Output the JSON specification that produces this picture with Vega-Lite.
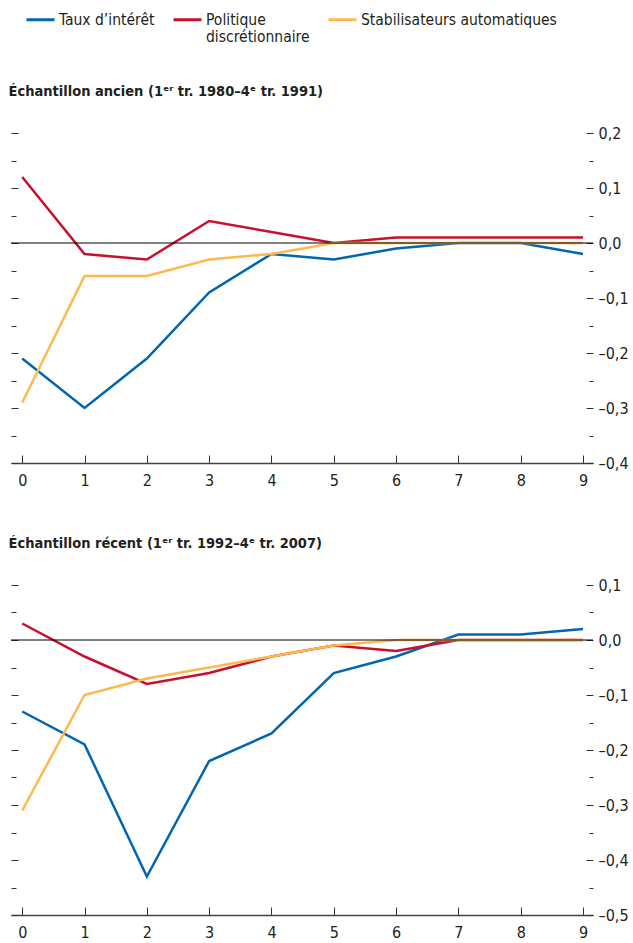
{
  "$schema": "https://vega.github.io/schema/vega-lite/v6.json",
  "background": "white",
  "padding": {"left": 8, "top": 4, "right": 4, "bottom": 4},
  "config": {
    "font": "'DejaVu Sans Condensed', sans-serif",
    "view": {"stroke": null},
    "axis": {"grid": false, "title": null, "labelFontSize": 16, "labelColor": "#231f20", "tickColor": "#333", "tickWidth": 1},
    "title": {"fontSize": 14.5, "fontWeight": "bold", "anchor": "start", "color": "#231f20", "offset": 26}
  },
  "datasets": {
    "d": [
      {"panel": "ancien", "h": 0, "s": "Taux d’intérêt", "v": -0.21},
      {"panel": "ancien", "h": 1, "s": "Taux d’intérêt", "v": -0.30},
      {"panel": "ancien", "h": 2, "s": "Taux d’intérêt", "v": -0.21},
      {"panel": "ancien", "h": 3, "s": "Taux d’intérêt", "v": -0.09},
      {"panel": "ancien", "h": 4, "s": "Taux d’intérêt", "v": -0.02},
      {"panel": "ancien", "h": 5, "s": "Taux d’intérêt", "v": -0.03},
      {"panel": "ancien", "h": 6, "s": "Taux d’intérêt", "v": -0.01},
      {"panel": "ancien", "h": 7, "s": "Taux d’intérêt", "v": 0.0},
      {"panel": "ancien", "h": 8, "s": "Taux d’intérêt", "v": 0.0},
      {"panel": "ancien", "h": 9, "s": "Taux d’intérêt", "v": -0.02},
      {"panel": "ancien", "h": 0, "s": "Politique discrétionnaire", "v": 0.12},
      {"panel": "ancien", "h": 1, "s": "Politique discrétionnaire", "v": -0.02},
      {"panel": "ancien", "h": 2, "s": "Politique discrétionnaire", "v": -0.03},
      {"panel": "ancien", "h": 3, "s": "Politique discrétionnaire", "v": 0.04},
      {"panel": "ancien", "h": 4, "s": "Politique discrétionnaire", "v": 0.02},
      {"panel": "ancien", "h": 5, "s": "Politique discrétionnaire", "v": 0.0},
      {"panel": "ancien", "h": 6, "s": "Politique discrétionnaire", "v": 0.01},
      {"panel": "ancien", "h": 7, "s": "Politique discrétionnaire", "v": 0.01},
      {"panel": "ancien", "h": 8, "s": "Politique discrétionnaire", "v": 0.01},
      {"panel": "ancien", "h": 9, "s": "Politique discrétionnaire", "v": 0.01},
      {"panel": "ancien", "h": 0, "s": "Stabilisateurs automatiques", "v": -0.29},
      {"panel": "ancien", "h": 1, "s": "Stabilisateurs automatiques", "v": -0.06},
      {"panel": "ancien", "h": 2, "s": "Stabilisateurs automatiques", "v": -0.06},
      {"panel": "ancien", "h": 3, "s": "Stabilisateurs automatiques", "v": -0.03},
      {"panel": "ancien", "h": 4, "s": "Stabilisateurs automatiques", "v": -0.02},
      {"panel": "ancien", "h": 5, "s": "Stabilisateurs automatiques", "v": 0.0},
      {"panel": "ancien", "h": 6, "s": "Stabilisateurs automatiques", "v": 0.0},
      {"panel": "ancien", "h": 7, "s": "Stabilisateurs automatiques", "v": 0.0},
      {"panel": "ancien", "h": 8, "s": "Stabilisateurs automatiques", "v": 0.0},
      {"panel": "ancien", "h": 9, "s": "Stabilisateurs automatiques", "v": 0.0},
      {"panel": "recent", "h": 0, "s": "Taux d’intérêt", "v": -0.13},
      {"panel": "recent", "h": 1, "s": "Taux d’intérêt", "v": -0.19},
      {"panel": "recent", "h": 2, "s": "Taux d’intérêt", "v": -0.43},
      {"panel": "recent", "h": 3, "s": "Taux d’intérêt", "v": -0.22},
      {"panel": "recent", "h": 4, "s": "Taux d’intérêt", "v": -0.17},
      {"panel": "recent", "h": 5, "s": "Taux d’intérêt", "v": -0.06},
      {"panel": "recent", "h": 6, "s": "Taux d’intérêt", "v": -0.03},
      {"panel": "recent", "h": 7, "s": "Taux d’intérêt", "v": 0.01},
      {"panel": "recent", "h": 8, "s": "Taux d’intérêt", "v": 0.01},
      {"panel": "recent", "h": 9, "s": "Taux d’intérêt", "v": 0.02},
      {"panel": "recent", "h": 0, "s": "Politique discrétionnaire", "v": 0.03},
      {"panel": "recent", "h": 1, "s": "Politique discrétionnaire", "v": -0.03},
      {"panel": "recent", "h": 2, "s": "Politique discrétionnaire", "v": -0.08},
      {"panel": "recent", "h": 3, "s": "Politique discrétionnaire", "v": -0.06},
      {"panel": "recent", "h": 4, "s": "Politique discrétionnaire", "v": -0.03},
      {"panel": "recent", "h": 5, "s": "Politique discrétionnaire", "v": -0.01},
      {"panel": "recent", "h": 6, "s": "Politique discrétionnaire", "v": -0.02},
      {"panel": "recent", "h": 7, "s": "Politique discrétionnaire", "v": 0.0},
      {"panel": "recent", "h": 8, "s": "Politique discrétionnaire", "v": 0.0},
      {"panel": "recent", "h": 9, "s": "Politique discrétionnaire", "v": 0.0},
      {"panel": "recent", "h": 0, "s": "Stabilisateurs automatiques", "v": -0.31},
      {"panel": "recent", "h": 1, "s": "Stabilisateurs automatiques", "v": -0.10},
      {"panel": "recent", "h": 2, "s": "Stabilisateurs automatiques", "v": -0.07},
      {"panel": "recent", "h": 3, "s": "Stabilisateurs automatiques", "v": -0.05},
      {"panel": "recent", "h": 4, "s": "Stabilisateurs automatiques", "v": -0.03},
      {"panel": "recent", "h": 5, "s": "Stabilisateurs automatiques", "v": -0.01},
      {"panel": "recent", "h": 6, "s": "Stabilisateurs automatiques", "v": 0.0},
      {"panel": "recent", "h": 7, "s": "Stabilisateurs automatiques", "v": 0.0},
      {"panel": "recent", "h": 8, "s": "Stabilisateurs automatiques", "v": 0.0},
      {"panel": "recent", "h": 9, "s": "Stabilisateurs automatiques", "v": 0.0}
    ]
  },
  "vconcat": [
    {
      "title": {"text": "Échantillon ancien (1ᵉʳ tr. 1980–4ᵉ tr. 1991)", "dx": -2},
      "width": 582,
      "height": 330,
      "layer": [
        {
          "data": {"name": "d"},
          "transform": [{"filter": "datum.panel == 'ancien'"}],
          "mark": {"type": "line", "strokeWidth": 2.5},
          "encoding": {
            "x": {"field": "h", "type": "quantitative", "scale": {"domain": [-0.18, 9.16], "nice": false, "zero": false},
              "axis": {"values": [0,1,2,3,4,5,6,7,8,9], "tickSize": -8, "domainColor": "#444", "domainWidth": 1.5, "labelPadding": 17, "labelFlush": false}},
            "y": {"field": "v", "type": "quantitative", "scale": {"domain": [-0.4, 0.2], "nice": false, "zero": false},
              "axis": {"orient": "right", "domain": false,
                "values": [-0.4,-0.35,-0.3,-0.25,-0.2,-0.15,-0.1,-0.05,0,0.05,0.1,0.15,0.2],
                "tickSize": {"condition": {"test": "abs(round(datum.value*100)) % 10 == 0", "value": -7}, "value": -4},
                "labelPadding": 12,
                "labelExpr": "abs(round(datum.value*100)) % 10 == 0 ? (datum.value < -0.001 ? '–' : '') + replace(format(abs(datum.value), '.1f'), '.', ',') : ''"}},
            "color": {"field": "s", "type": "nominal",
              "scale": {"domain": ["Taux d’intérêt", "Politique discrétionnaire", "Stabilisateurs automatiques"], "range": ["#0066b3", "#c8102e", "#fdb94e"]},
              "legend": {"orient": "none", "legendX": 14, "legendY": -129, "direction": "horizontal", "title": null, "padding": 0,
                "symbolType": "stroke", "symbolSize": 784, "symbolStrokeWidth": 3, "labelFontSize": 15.5, "labelColor": "#231f20",
                "labelOffset": 3, "columnPadding": 12, "labelBaseline": "middle", "labelLimit": 400,
                "labelExpr": "datum.label == 'Politique discrétionnaire' ? ['Politique', 'discrétionnaire'] : [datum.label, '']"}}
          }
        },
        {
          "data": {"values": [{"ref": 0}]},
          "mark": {"type": "rule", "color": "#000", "strokeWidth": 1},
          "encoding": {
            "y": {"field": "ref", "type": "quantitative", "scale": {"domain": [-0.4, 0.2], "nice": false, "zero": false},
              "axis": {"orient": "left", "domain": false, "labels": false,
                "values": [-0.4,-0.35,-0.3,-0.25,-0.2,-0.15,-0.1,-0.05,0,0.05,0.1,0.15,0.2],
                "tickSize": {"condition": {"test": "abs(round(datum.value*100)) % 10 == 0", "value": -7}, "value": -5}}}
          }
        }
      ],
      "resolve": {"axis": {"y": "independent"}}
    },
    {
      "title": {"text": "Échantillon récent (1ᵉʳ tr. 1992–4ᵉ tr. 2007)", "dx": -2},
      "width": 582,
      "height": 330,
      "layer": [
        {
          "data": {"name": "d"},
          "transform": [{"filter": "datum.panel == 'recent'"}],
          "mark": {"type": "line", "strokeWidth": 2.5},
          "encoding": {
            "x": {"field": "h", "type": "quantitative", "scale": {"domain": [-0.18, 9.16], "nice": false, "zero": false},
              "axis": {"values": [0,1,2,3,4,5,6,7,8,9], "tickSize": -8, "domainColor": "#444", "domainWidth": 1.5, "labelPadding": 17, "labelFlush": false}},
            "y": {"field": "v", "type": "quantitative", "scale": {"domain": [-0.5, 0.1], "nice": false, "zero": false},
              "axis": {"orient": "right", "domain": false,
                "values": [-0.5,-0.45,-0.4,-0.35,-0.3,-0.25,-0.2,-0.15,-0.1,-0.05,0,0.05,0.1],
                "tickSize": {"condition": {"test": "abs(round(datum.value*100)) % 10 == 0", "value": -7}, "value": -4},
                "labelPadding": 12,
                "labelExpr": "abs(round(datum.value*100)) % 10 == 0 ? (datum.value < -0.001 ? '–' : '') + replace(format(abs(datum.value), '.1f'), '.', ',') : ''"}},
            "color": {"field": "s", "type": "nominal"}
          }
        },
        {
          "data": {"values": [{"ref": 0}]},
          "mark": {"type": "rule", "color": "#000", "strokeWidth": 1},
          "encoding": {
            "y": {"field": "ref", "type": "quantitative", "scale": {"domain": [-0.5, 0.1], "nice": false, "zero": false},
              "axis": {"orient": "left", "domain": false, "labels": false,
                "values": [-0.5,-0.45,-0.4,-0.35,-0.3,-0.25,-0.2,-0.15,-0.1,-0.05,0,0.05,0.1],
                "tickSize": {"condition": {"test": "abs(round(datum.value*100)) % 10 == 0", "value": -7}, "value": -5}}}
          }
        }
      ],
      "resolve": {"axis": {"y": "independent"}}
    }
  ],
  "spacing": 47,
  "resolve": {"scale": {"y": "independent", "x": "independent", "color": "shared"}}
}
